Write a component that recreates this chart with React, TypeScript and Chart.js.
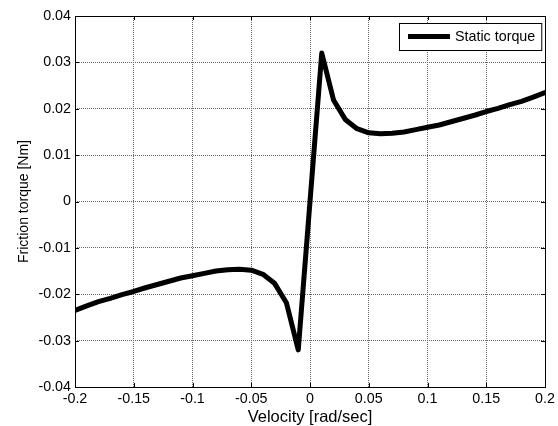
import React, { useEffect, useRef } from "react";
import { Chart, registerables } from "chart.js";

Chart.register(...registerables);

const velocity: number[] = [
  -0.2, -0.19, -0.18, -0.17, -0.16, -0.15, -0.14, -0.13, -0.12, -0.11,
  -0.1, -0.09, -0.08, -0.07, -0.06, -0.05, -0.04, -0.03, -0.02, -0.01,
  0,
  0.01, 0.02, 0.03, 0.04, 0.05, 0.06, 0.07, 0.08, 0.09, 0.1,
  0.11, 0.12, 0.13, 0.14, 0.15, 0.16, 0.17, 0.18, 0.19, 0.2,
];
const staticTorque: number[] = [
  -0.0235, -0.0225, -0.0216, -0.0209, -0.0201, -0.0194, -0.0186, -0.0179, -0.0172, -0.0165,
  -0.016, -0.0155, -0.015, -0.0147, -0.0146, -0.0148, -0.0157, -0.0177, -0.0219, -0.032,
  0,
  0.032, 0.0219, 0.0177, 0.0157, 0.0148, 0.0146, 0.0147, 0.015, 0.0155, 0.016,
  0.0165, 0.0172, 0.0179, 0.0186, 0.0194, 0.0201, 0.0209, 0.0216, 0.0225, 0.0235,
];
const seriesLabel = "Static torque";
const xTitle = "Velocity [rad/sec]";
const yTitle = "Friction torque [Nm]";
const xTickValues: number[] = [-0.2, -0.15, -0.1, -0.05, 0, 0.05, 0.1, 0.15, 0.2];
const yTickValues: number[] = [-0.04, -0.03, -0.02, -0.01, 0, 0.01, 0.02, 0.03, 0.04];

const FONT = "'Liberation Sans', Arial, sans-serif";
const FSIZE = 14.3;

const fmt = (v: number) => String(parseFloat(Number(v).toFixed(3)));

const boxPlugin = {
  id: "matlabBox",
  afterDatasetsDraw(chart: any) {
    const { ctx, chartArea: a, scales } = chart;
    ctx.save();
    ctx.strokeStyle = "#000";
    ctx.lineWidth = 1;
    ctx.strokeRect(Math.round(a.left) + 0.5, Math.round(a.top) + 0.5, Math.round(a.right - a.left), Math.round(a.bottom - a.top));
    const tl = 4;
    ctx.beginPath();
    xTickValues.forEach((v) => {
      const x = Math.round(scales.x.getPixelForValue(v)) + 0.5;
      ctx.moveTo(x, a.bottom);
      ctx.lineTo(x, a.bottom - tl);
      ctx.moveTo(x, a.top);
      ctx.lineTo(x, a.top + tl);
    });
    yTickValues.forEach((v) => {
      const y = Math.round(scales.y.getPixelForValue(v)) + 0.5;
      ctx.moveTo(a.left, y);
      ctx.lineTo(a.left + tl, y);
      ctx.moveTo(a.right, y);
      ctx.lineTo(a.right - tl, y);
    });
    ctx.stroke();

    // legend box
    const ds = chart.data.datasets[0];
    ctx.font = `${FSIZE}px ${FONT}`;
    const tw = ctx.measureText(ds.label).width;
    const lineLen = 42;
    const bw = 9 + lineLen + 5 + tw + 6;
    const bh = 27;
    const bx = Math.round(a.right - 4 - bw);
    const by = Math.round(a.top + 7);
    ctx.fillStyle = "#fff";
    ctx.fillRect(bx, by, bw, bh);
    ctx.strokeRect(bx + 0.5, by + 0.5, bw, bh);
    const cy = by + bh / 2;
    ctx.beginPath();
    ctx.lineWidth = ds.borderWidth;
    ctx.strokeStyle = ds.borderColor;
    ctx.moveTo(bx + 9, cy);
    ctx.lineTo(bx + 9 + lineLen, cy);
    ctx.stroke();
    ctx.fillStyle = "#000";
    ctx.textBaseline = "middle";
    ctx.textAlign = "left";
    ctx.fillText(ds.label, bx + 9 + lineLen + 5, cy + 1);
    ctx.restore();
  },
};

export default function App() {
  const ref = useRef<HTMLCanvasElement | null>(null);
  useEffect(() => {
    if (!ref.current) return;
    const chart = new Chart(ref.current, {
      type: "line",
      data: {
        datasets: [
          {
            label: seriesLabel,
            data: velocity.map((v, i) => ({ x: v, y: staticTorque[i] })),
            borderColor: "#000",
            borderWidth: 5,
            pointRadius: 0,
            tension: 0,
            fill: false,
            borderJoinStyle: "round",
            borderCapStyle: "round",
          } as any,
        ],
      },
      options: {
        animation: false,
        responsive: false,
        maintainAspectRatio: false,
        layout: { padding: { top: 16, right: 13, left: 0, bottom: 0 } },
        plugins: { legend: { display: false }, tooltip: { enabled: false } },
        scales: {
          x: {
            type: "linear",
            min: -0.2,
            max: 0.2,
            afterBuildTicks: (s: any) => {
              s.ticks = xTickValues.map((v) => ({ value: v }));
            },
            afterFit: (s: any) => {
              s.height = 39;
            },
            ticks: {
              callback: (v: any) => fmt(v),
              font: { family: FONT, size: FSIZE },
              color: "#000",
              padding: 3,
              maxRotation: 0,
              autoSkip: false,
            },
            grid: { color: "#666", drawTicks: false, lineWidth: 1 } as any,
            border: { display: false, dash: [1, 1] },
            title: {
              display: true,
              text: xTitle,
              font: { family: FONT, size: 16.5, lineHeight: 1 },
              color: "#000",
              padding: { top: 0, bottom: 0 },
            },
          },
          y: {
            type: "linear",
            min: -0.04,
            max: 0.04,
            afterBuildTicks: (s: any) => {
              s.ticks = yTickValues.map((v) => ({ value: v }));
            },
            afterFit: (s: any) => {
              s.width = 75;
            },
            ticks: {
              callback: (v: any) => fmt(v),
              font: { family: FONT, size: FSIZE },
              color: "#000",
              padding: 4,
              autoSkip: false,
            },
            grid: { color: "#666", drawTicks: false, lineWidth: 1 } as any,
            border: { display: false, dash: [1, 1] },
            title: {
              display: true,
              text: yTitle,
              font: { family: FONT, size: 14, lineHeight: 1 },
              color: "#000",
              padding: { top: 17, bottom: 0 },
            },
          },
        },
      },
      plugins: [boxPlugin],
    });
    return () => chart.destroy();
  }, []);
  return (
    <div style={{ position: "fixed", left: 0, top: 0, width: 558, height: 426, background: "#fff" }}>
      <canvas ref={ref} width={558} height={426} style={{ width: 558, height: 426 }} />
    </div>
  );
}
